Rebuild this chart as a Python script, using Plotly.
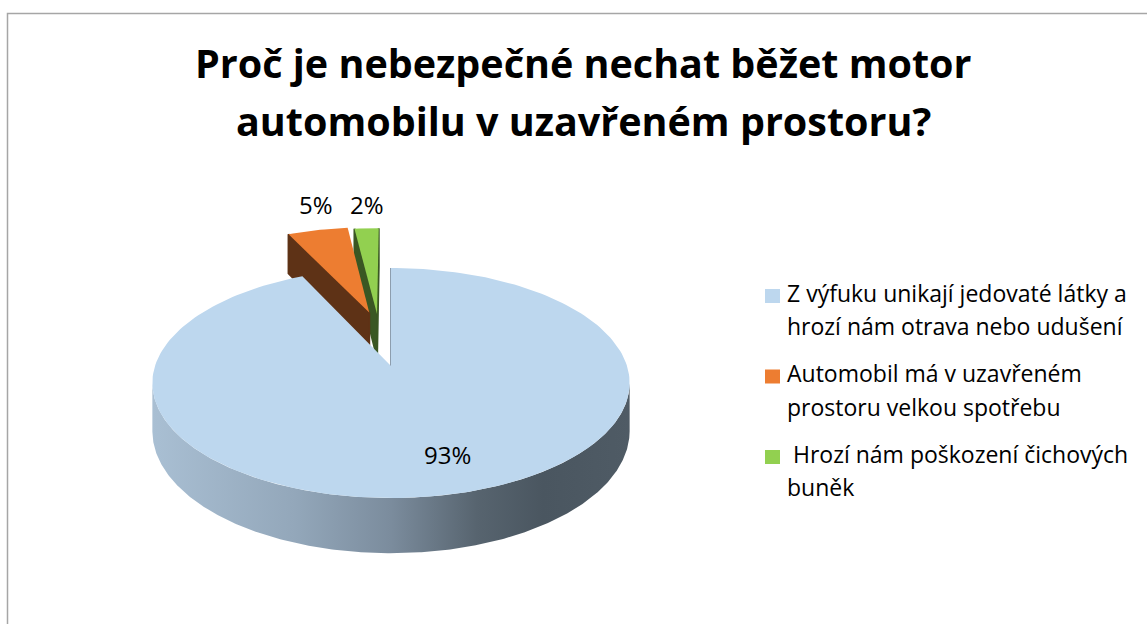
import numpy as np
import plotly.graph_objects as go

# ---- data ----
categories = [
    "Z výfuku unikají jedovaté látky a<br>hrozí nám otrava nebo udušení",
    "Automobil má v uzavřeném<br>prostoru velkou spotřebu",
    " Hrozí nám poškození čichových<br>buněk",
]
shares = [93, 5, 2]
value_labels = ["93%", "5%", "2%"]
title_lines = ["Proč je nebezpečné nechat běžet motor",
               "automobilu v uzavřeném prostoru?"]

# ---- style ----
top_colors = ["#bdd7ee", "#ed7d31", "#92d050"]
cut_colors = ["#8d9eae", "#5e3216", "#3a5723"]
explode = [0.0, 0.52, 0.50]             # pull-out distance (radius units)
explode_turn = [0.0, 5.2, -3.7]         # heading tweak vs. mid-angle, degrees
# label placement: (radius along the mid-angle, x shift, y shift)
label_pos = [(0.72, 15, 0), (1.0, -2, -26), (1.0, 0, -24)]
wall_scale = [[0.0, "#a9bfd3"], [0.3, "#93a7ba"], [0.5, "#7b8c9d"],
              [0.68, "#57646f"], [0.82, "#4a5660"], [1.0, "#4f5b65"]]

W, H = 1147, 624
CX, CY = 391, 366          # projected pie centre
RX, RY = 236, 112.5        # radii of the top face
DEPTH = 47                 # thickness of the disc
PERSP = 0.148              # perspective strength (camera at dz = -1/PERSP)
FONT = "Open Sans"


def project(dx, dz, drop=0.0):
    """Map disc coordinates (dx to the right, dz away from the viewer)
    onto the page; drop=1 gives the bottom face."""
    w = 1.0 + PERSP * dz
    return CX + RX * dx / w, CY - RY * dz / w + drop * DEPTH / w


def arc(t0, t1, ex, ez, drop=0.0, n=120):
    t = np.linspace(t0, t1, max(2, int(n * (t1 - t0) / np.pi) + 2))
    return project(np.sin(t) + ex, np.cos(t) + ez, drop)


cam = np.array([0.0, -1.0 / PERSP])
fracs = np.array(shares, dtype=float) / sum(shares)
starts = np.concatenate([[0.0], np.cumsum(fracs)[:-1]]) * 2 * np.pi
ends = np.cumsum(fracs) * 2 * np.pi


def offset(i):
    head = (starts[i] + ends[i]) / 2 + np.radians(explode_turn[i])
    return explode[i] * np.sin(head), explode[i] * np.cos(head)


fig = go.Figure()


def poly(xs, ys, color, line_w=0, line_c=None):
    fig.add_trace(go.Scatter(
        x=np.append(xs, xs[0]), y=np.append(ys, ys[0]), mode="lines",
        fill="toself", fillcolor=color,
        line=dict(width=line_w, color=line_c or color),
        hoverinfo="skip", showlegend=False))


# the small slices sit at the back, so they are painted before the large one
for i in reversed(range(len(shares))):
    a0, a1 = starts[i], ends[i]
    ex, ez = offset(i)
    apex = np.array([ex, ez])

    # radial cut faces that turn towards the camera
    for a, sgn in ((a0, -1), (a1, 1)):
        normal = sgn * np.array([np.cos(a), -np.sin(a)])
        if np.dot(cam - apex, normal) >= -1e-9:
            ox, oz = np.sin(a) + ex, np.cos(a) + ez
            xt0, yt0 = project(ex, ez)
            xt1, yt1 = project(ox, oz)
            xb1, yb1 = project(ox, oz, 1)
            xb0, yb0 = project(ex, ez, 1)
            poly(np.array([xt0, xt1, xb1, xb0]), np.array([yt0, yt1, yb1, yb0]),
                 cut_colors[i], line_w=2)

    # outer wall: the part of the rim whose normal faces the camera
    t = np.linspace(a0, a1, 720)
    px, pz = np.sin(t) + ex, np.cos(t) + ez
    facing = (cam[0] - px) * np.sin(t) + (cam[1] - pz) * np.cos(t) > 0
    if facing.any():
        idx = np.where(facing)[0]
        tv = t[idx[0]: idx[-1] + 1]
        xt, yt = project(np.sin(tv) + ex, np.cos(tv) + ez)
        xb, yb = project(np.sin(tv) + ex, np.cos(tv) + ez, 1)
        xs = np.concatenate([xt, xb[::-1]])
        ys = np.concatenate([yt, yb[::-1]])
        fig.add_trace(go.Scatter(
            x=np.append(xs, xs[0]), y=np.append(ys, ys[0]), mode="lines",
            fill="toself",
            fillgradient=dict(type="horizontal", colorscale=wall_scale,
                              start=float(xs.min()), stop=float(xs.max())),
            line=dict(width=0), hoverinfo="skip", showlegend=False))

    # top face
    ax, ay = project(ex, ez)
    xa, ya = arc(a0, a1, ex, ez)
    poly(np.concatenate([[ax], xa]), np.concatenate([[ay], ya]), top_colors[i])

# value labels
annotations = []
for i in range(len(shares)):
    mid = (starts[i] + ends[i]) / 2
    r, sx, sy = label_pos[i]
    ex, ez = offset(i)
    lx, ly = project(r * np.sin(mid) + ex, r * np.cos(mid) + ez)
    annotations.append(dict(x=lx + sx, y=ly + sy, xref="x", yref="y",
                            text=value_labels[i], showarrow=False,
                            xanchor="center", yanchor="middle",
                            font=dict(family=FONT, size=24, color="#000000")))

# title, one annotation per line
for k, line in enumerate(title_lines):
    annotations.append(dict(x=583, y=63 + 58 * k, xref="x", yref="y",
                            text=f"<b>{line}</b>", showarrow=False,
                            xanchor="center", yanchor="middle",
                            font=dict(family=FONT, size=39.5, color="#000000")))

# legend: colour key plus two text lines per entry
shapes = [dict(type="rect", xref="x", yref="y", x0=7.5, y0=13.5, x1=W + 20, y1=H + 20,
               line=dict(color="#a6a6a6", width=1.5), fillcolor="rgba(0,0,0,0)")]
LEG_X, LEG_Y, LEG_STEP, LINE_STEP = 765, 296, 80.5, 33.8
for i, name in enumerate(categories):
    y0 = LEG_Y + LEG_STEP * i
    shapes.append(dict(type="rect", xref="x", yref="y", x0=LEG_X, x1=LEG_X + 15,
                       y0=y0 - 7, y1=y0 + 7, line=dict(width=0),
                       fillcolor=top_colors[i]))
    for j, part in enumerate(name.split("<br>")):
        text = "&nbsp;" + part[1:] if part.startswith(" ") else part
        annotations.append(dict(x=LEG_X + 20, y=y0 - 3.5 + LINE_STEP * j,
                                xref="x", yref="y", text=text, showarrow=False,
                                xanchor="left", yanchor="middle",
                                font=dict(family=FONT, size=23, color="#000000")))

fig.update_layout(
    width=W, height=H, margin=dict(l=0, r=0, t=0, b=0),
    paper_bgcolor="white", plot_bgcolor="white",
    xaxis=dict(range=[0, W], visible=False, fixedrange=True),
    yaxis=dict(range=[H, 0], visible=False, fixedrange=True),
    annotations=annotations, shapes=shapes, showlegend=False,
)

fig.write_html("out.html")
